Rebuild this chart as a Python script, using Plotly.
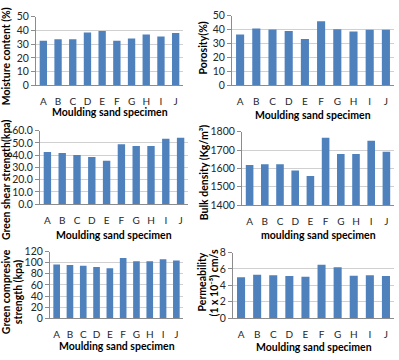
import plotly.graph_objects as go

specimens = ["A", "B", "C", "D", "E", "F", "G", "H", "I", "J"]
moisture = [32.5, 33.5, 33.5, 38.5, 39.5, 32.5, 34.0, 37.0, 35.5, 38.0]
porosity = [36.5, 40.7, 40.0, 39.0, 33.2, 46.0, 40.2, 38.6, 39.8, 39.8]
shear = [42.6, 41.8, 40.2, 38.5, 35.5, 49.0, 47.5, 47.5, 53.5, 54.3]
bulk_density = [1618, 1622, 1622, 1589, 1559, 1767, 1678, 1678, 1751, 1690]
compressive = [96.8, 95.7, 94.5, 92.2, 90.0, 108.4, 102.6, 102.6, 106.0, 103.7]
permeability = [5.0, 5.28, 5.24, 5.13, 5.05, 6.52, 6.21, 5.17, 5.24, 5.13]

W, H = 399, 360
BAR = "#4F81BD"
GRID = "#D0D0D0"
AXIS = "#8C8C8C"
FONT = "Lato"

panels = [
    dict(v=moisture, box=(36, 183, 11, 82), yr=[0, 50], dt=10, fmt="d",
         xt="Moulding sand specimen", xty=110,
         yt=["Moisture content (%)"], ytx=[6], yty=52),
    dict(v=porosity, box=(232, 394, 10, 82), yr=[0, 50], dt=10, fmt="d",
         xt="Moulding sand specimen", xty=113,
         yt=["Porosity(%)"], ytx=[203], yty=44),
    dict(v=shear, box=(40, 188, 129, 205), yr=[0, 60], dt=10, fmt=".1f",
         xt="Moulding sand specimen", xty=237,
         yt=["Green shear strength(kpa)"], ytx=[6], yty=180),
    dict(v=bulk_density, box=(242, 394, 130, 206), yr=[1400, 1800], dt=100, fmt="d",
         xt="moulding sand specimen", xty=237,
         yt=["Bulk density (Kg/m³)"], ytx=[204], yty=172),
    dict(v=compressive, box=(50, 183, 254, 323), yr=[0, 120], dt=20, fmt="d",
         xt="Moulding sand specimen", xty=352,
         yt=["Green compresive", "strength (kpa)"], ytx=[6, 18], yty=296),
    dict(v=permeability, box=(233, 394, 255, 323), yr=[0, 8], dt=2, fmt="d",
         xt="Moulding sand specimen", xty=353,
         yt=["Permeability", "(1 x 10⁻⁵) cm/s"], ytx=[202, 214], yty=286),
]

fig = go.Figure()
annotations = []
layout = {}
for i, p in enumerate(panels, start=1):
    x0, x1, y0, y1 = p["box"]
    xa = "x" if i == 1 else f"x{i}"
    ya = "y" if i == 1 else f"y{i}"
    fig.add_trace(go.Bar(x=specimens, y=p["v"], marker_color=BAR, marker_line_width=0,
                         xaxis=xa, yaxis=ya, showlegend=False, hoverinfo="x+y"))
    layout[f"xaxis{'' if i == 1 else i}"] = dict(
        domain=[x0 / W, x1 / W], anchor=ya, type="category",
        showline=True, linecolor=AXIS, linewidth=1, showgrid=False,
        ticks="outside", ticklen=7, tickcolor="rgba(0,0,0,0)",
        tickfont=dict(family=FONT, size=10, color="#262626"), fixedrange=True)
    layout[f"yaxis{'' if i == 1 else i}"] = dict(
        domain=[1 - y1 / H, 1 - y0 / H], anchor=xa, range=p["yr"], dtick=p["dt"],
        tick0=p["yr"][0], tickformat=p["fmt"],
        showline=True, linecolor=AXIS, linewidth=1, showgrid=True, gridcolor=GRID,
        gridwidth=1, ticks="outside", ticklen=4, tickcolor=AXIS, zeroline=False,
        tickfont=dict(family=FONT, size=10.5, color="#262626"), fixedrange=True)
    annotations.append(dict(text="<b>" + p["xt"] + "</b>", x=(x0 + x1) / 2 / W, y=1 - p["xty"] / H,
                            xref="paper", yref="paper", showarrow=False,
                            xanchor="center", yanchor="middle",
                            font=dict(family=FONT, size=10.5, color="#000000")))
    for line, tx in zip(p["yt"], p["ytx"]):
        annotations.append(dict(text="<b>" + line + "</b>", x=tx / W, y=1 - p["yty"] / H,
                                xref="paper", yref="paper", showarrow=False, textangle=-90,
                                xanchor="center", yanchor="middle",
                                font=dict(family=FONT, size=10.5, color="#000000")))

fig.update_layout(width=W, height=H, margin=dict(l=0, r=0, t=0, b=0),
                  paper_bgcolor="white", plot_bgcolor="white", bargap=0.5,
                  annotations=annotations, **layout)
fig.write_html("out.html")
